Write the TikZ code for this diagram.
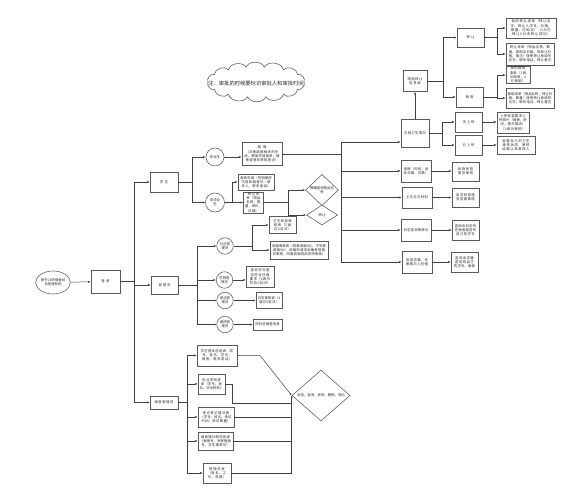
\documentclass[tikz,border=0pt]{standalone}
\usepackage{fontspec}
\setmainfont{Noto Sans CJK SC}
\XeTeXlinebreaklocale "zh"
\XeTeXlinebreakskip=0pt plus 1pt
\usetikzlibrary{arrows.meta,shapes.geometric}
\begin{document}
\begin{tikzpicture}[x=1pt,y=-1pt,
  tf/.style={font=\fontsize{3.4}{4.2}\selectfont, text=black!85},
  bx/.style={tf, draw=black!65, line width=0.55pt, fill=white, align=center, inner xsep=1.2pt, inner ysep=0.4pt},
  sz/.style 2 args={minimum width=#1pt, minimum height=#2pt, text width=#1pt-3pt},
  cir/.style={tf, circle, draw=black!65, line width=0.55pt, fill=white, align=center, inner sep=0pt, minimum size=#1pt},
  dia/.style={tf, diamond, draw=black!65, line width=0.55pt, fill=white, align=center, inner sep=0pt},
  ln/.style={draw=black!75, line width=0.5pt},
  ar/.style={ln, -{Latex[length=2.6pt,width=2.1pt]}}
]
\useasboundingbox[fill=white] (0,0) rectangle (572,500);

% ---------- main spine ----------
\node[tf, ellipse, draw=black!65, line width=0.55pt, align=center, inner sep=0pt, minimum width=32pt, minimum height=23pt] (sys) at (53,282.5) {基于C\#的宿舍综\\合管理系统};
\node[bx,sz={29}{23}] (login) at (105.5,281.5) {登录};
\node[bx,sz={28}{20}] (stu) at (164,182) {学生};
\node[bx,sz={27}{18}] (adm) at (164.5,285) {管理员};
\node[bx,sz={28}{13}] (dadm) at (164,402.5) {宿舍管理员};

\coordinate (tTop) at (134,182);
\coordinate (tLog) at (134,281.5);
\coordinate (tAdm) at (134,285);
\coordinate (tBot) at (134,402.5);
\draw[ar] (sys) -- (login);
\draw[ln] (login) -- (tLog);
\draw[ln] (tTop) -- (tBot);
\draw[ar] (tTop) -- (stu);
\draw[ar] (tAdm) -- (adm);
\draw[ar] (tBot) -- (dadm);

% ---------- student ----------
\node[cir=18] (grad) at (215,157) {毕业生};
\node[cir=19] (ngrad) at (215,202.5) {非毕业\\生};
\node[bx,sz={40}{23}] (leave) at (262,154) {离宿\\（办理离宿相关的手续，需填写退宿单，宿舍管理员审核登记）};
\node[bx,sz={36}{16}] (repair) at (256,182) {报修申请（写明报修内容和宿舍号，联系人，联系电话）};
\node[bx,sz={20}{20}] (item) at (253.5,202.5) {转让清单（物品名称，数量，单价，日期）};
\node[dia, minimum width=33pt, minimum height=22pt] (d1) at (322,190) {模糊查询物品名\\称};
\node[dia, minimum width=31pt, minimum height=20pt] (d2) at (322,215) {转让};

\coordinate (s1) at (192,182);
\draw[ln] (stu) -- (s1);
\draw[ar] (s1) |- (grad);
\draw[ar] (s1) |- (ngrad);
\draw[ar] (grad) -- (grad -| leave.west);
\coordinate (s2) at (232,202.5);
\draw[ln] (ngrad) -- (s2);
\draw[ar] (s2) |- (repair);
\draw[ar] (s2) -- (item);
\coordinate (s3) at (288,202.5);
\draw[ln] (item) -- (s3);
\draw[ar] (s3) |- (d1);
\draw[ar] (s3) |- (d2);

% ---------- bus to right column ----------
\coordinate (bL) at (341,154);
\coordinate (bTop) at (341,142);
\coordinate (bBot) at (341,262);
\draw[ln] (leave) -- (bL);
\draw[ln] (bTop) -- (bBot);

\node[bx,sz={28}{28}] (nw) at (415,133) {内网卫生情况};
\node[bx,sz={30}{22}] (qj) at (416,171) {请假（时间，返校日期，天数）};
\node[bx,sz={30}{21}] (sj) at (417,197.5) {上交论文材料};
\node[bx,sz={30}{22}] (rz) at (416,230) {日志查询审核号};
\node[bx,sz={30}{22}] (xj) at (417,262) {查询学籍、住宿情况入住宿};
\node[bx,sz={27}{19}] (qjr) at (465.5,171.5) {由院系管理员审核};
\node[bx,sz={27}{19}] (sjr) at (465.5,197.5) {由学校管理员查看审核};
\node[bx,sz={27}{20}] (rzr) at (465.5,230) {查询本日志所在宿舍是否有自己的学号};
\node[bx,sz={27}{20}] (xjr) at (464.5,262) {查询本学籍是否有自己的学号、宿舍};

\draw[ar] (bTop) -- (bTop -| nw.west);
\draw[ar] (bTop) |- (qj);
\draw[ar] (bTop) |- (sj);
\draw[ar] (bTop) |- (rz);
\draw[ar] (bTop) |- (xj);
\draw[ar] (qj) -- (qj -| qjr.west);
\draw[ar] (sj) -- (sjr);
\draw[ar] (rz) -- (rzr);
\draw[ar] (xj) -- (xjr);

% ---------- transfer / hygiene tree ----------
\node[bx,sz={24}{21}] (wp) at (415,81) {物品转让信息表};
\node[bx,sz={27}{19}] (zr) at (470.5,37.5) {转让};
\node[bx,sz={27}{20}] (hq) at (469.5,97) {换取};
\node[bx,sz={50}{20}] (za) at (531,28) {我的转让清单（转让名字，转让人学号，价格，数量，已购买）（1为已转让0为未转让成功）};
\node[bx,sz={48}{22}] (zb) at (530,54) {转让清单（物品名称，数量，原购买价格，现转让价格，备注）接受转让者填写名字，联系电话，转让备注};
\node[bx,sz={24}{16}] (hc) at (518,75) {我的换取清单（1表示换取，0已换取）};
\node[bx,sz={48}{20}] (hd) at (530,98) {换取清单（物品名称，转让价格，数量）接受转让者填写名字，联系电话，转让备注};
\node[bx,sz={27}{20}] (wsc) at (468.5,122) {未上传};
\node[bx,sz={27}{20}] (ysc) at (468.5,145) {已上传};
\node[bx,sz={32}{21}] (we) at (513,122.5) {上传检查要求上传照片（宿舍，房间，情况描述）（1表示审核）};
\node[bx,sz={38}{18}] (wf) at (516,145) {查看自己的卫生审核状态，审核结果以及审核人};

\draw[ar] (nw) -- (wp);
\coordinate (r1) at (443,81);
\draw[ln] (wp) -- (r1);
\draw[ar] (r1) |- (zr);
\draw[ar] (r1) |- (hq);
\coordinate (r2) at (497,37.5);
\draw[ln] (zr) -- (r2);
\draw[ar] (r2) |- (za);
\draw[ar] (r2) |- (zb);
\coordinate (r3) at (497,97);
\draw[ln] (hq) -- (r3);
\draw[ar] (r3) |- (hc);
\draw[ar] (r3) |- (hd);
\coordinate (r4) at (442,133);
\draw[ln] (nw) -- (r4);
\draw[ar] (r4) |- (wsc);
\draw[ar] (r4) |- (ysc);
\draw[ar] (wsc) -- (wsc -| we.west);
\draw[ar] (ysc) -- (wf);

% ---------- cloud note ----------
\draw[draw=black!65, line width=0.55pt, fill=white]
  (304,82)
  \foreach \a in {30,55,78,100,125,150,180,210,235,258,280,305,330,360} {
    to[bend left=70] ({256+48*cos(\a)},{82+15*sin(\a)})
  } -- cycle;
\node[font=\fontsize{5.3}{6}\selectfont, text=black!85, inner sep=0pt] (clt) at (256,83) {注：审批的时候要标识审批人和审批时间};

% ---------- admin ----------
\node[cir=16.5] (c1) at (225,246) {社区管\\理员};
\node[cir=16.5] (c2) at (224.5,280) {学院管\\理员};
\node[cir=16.5] (c3) at (225,300.5) {保洁管\\理员};
\node[cir=16.5] (c4) at (225,324.5) {维修管\\理员};
\node[bx,sz={27}{17}] (ws) at (282.5,225) {卫生检查审核表（1通过0否决）};
\node[bx,sz={58}{18}] (tz) at (299,250) {调宿审核表（同意调宿为1，不同意调宿为0，调宿申请须由宿舍管理员审核，同意调宿则由学院审批）};
\node[bx,sz={28}{21}] (cx) at (260,277) {查询学号是否符合住宿要求（1表示符合0否决）};
\node[bx,sz={26}{16}] (rs) at (269,300.5) {日志审核表（1通过0否决）};
\node[bx,sz={29}{11}] (ts) at (267.5,324.5) {同社区宿管信息};

\coordinate (a1) at (197,285);
\coordinate (a0) at (197,246);
\draw[ln] (adm) -- (a1);
\draw[ln] (a1) -- (a0);
\draw[ar] (a1) |- (c1);
\draw[ar] (a1) |- (c2);
\draw[ar] (a1) |- (c3);
\draw[ar] (a1) |- (c4);
\coordinate (a2) at (252,246);
\draw[ln] (c1) -- (a2);
\draw[ar] (a2) |- (ws);
\draw[ar] (a2) |- (tz);
\draw[ar] (c2) -- (c2 -| cx.west);
\draw[ar] (c3) -- (rs);
\draw[ar] (c4) -- (ts);

% ---------- dorm admin ----------
\node[bx,sz={40}{21}] (kb) at (217,355.5) {学生基本信息表（学号，姓名，学号，宿舍，联系电话）};
\node[bx,sz={27}{20}] (lb) at (211.5,384) {毕业学院清单（学号，姓名，毕业院系）};
\node[bx,sz={36}{20}] (mb) at (216,417) {来访登记情况表（学号，姓名，来访时间，来访数量）};
\node[bx,sz={35}{18}] (nb) at (215.5,441) {宿舍楼分配信息表（宿舍号，关联宿舍号，学生楼栋号）};
\node[bx,sz={28}{20}] (ob) at (217,473) {管理员表（姓名，工号，权限）};
\node[dia, minimum width=58pt, minimum height=25pt] (op) at (321,395.5) {添加，查询，修改，删除，导出};

\coordinate (dT) at (187,355.5);
\coordinate (dB) at (187,473);
\draw[ln] (dadm) -- (dadm -| dT);
\draw[ln] (dT) -- (dB);
\draw[ar] (dT) -- (kb);
\draw[ar] (dT) |- (lb);
\draw[ar] (dT) |- (mb);
\draw[ar] (dT) |- (nb);
\draw[ar] (dB) -- (ob);

\coordinate (k1) at (260,355.5);
\draw[ar] (kb) -- (k1) -- (op.west);
\coordinate (l1) at (232,403);
\draw[ln] (lb.east) -| (l1) -- (l1 -| op.west);
\draw[ln] (mb) -- (mb -| op.west);
\draw[ln] (nb) -- (nb -| op.west);
\draw[ln] (ob) -- (ob -| op.west);
\draw[ar] (ob -| op.west) -- (op.west);
\end{tikzpicture}
\end{document}
